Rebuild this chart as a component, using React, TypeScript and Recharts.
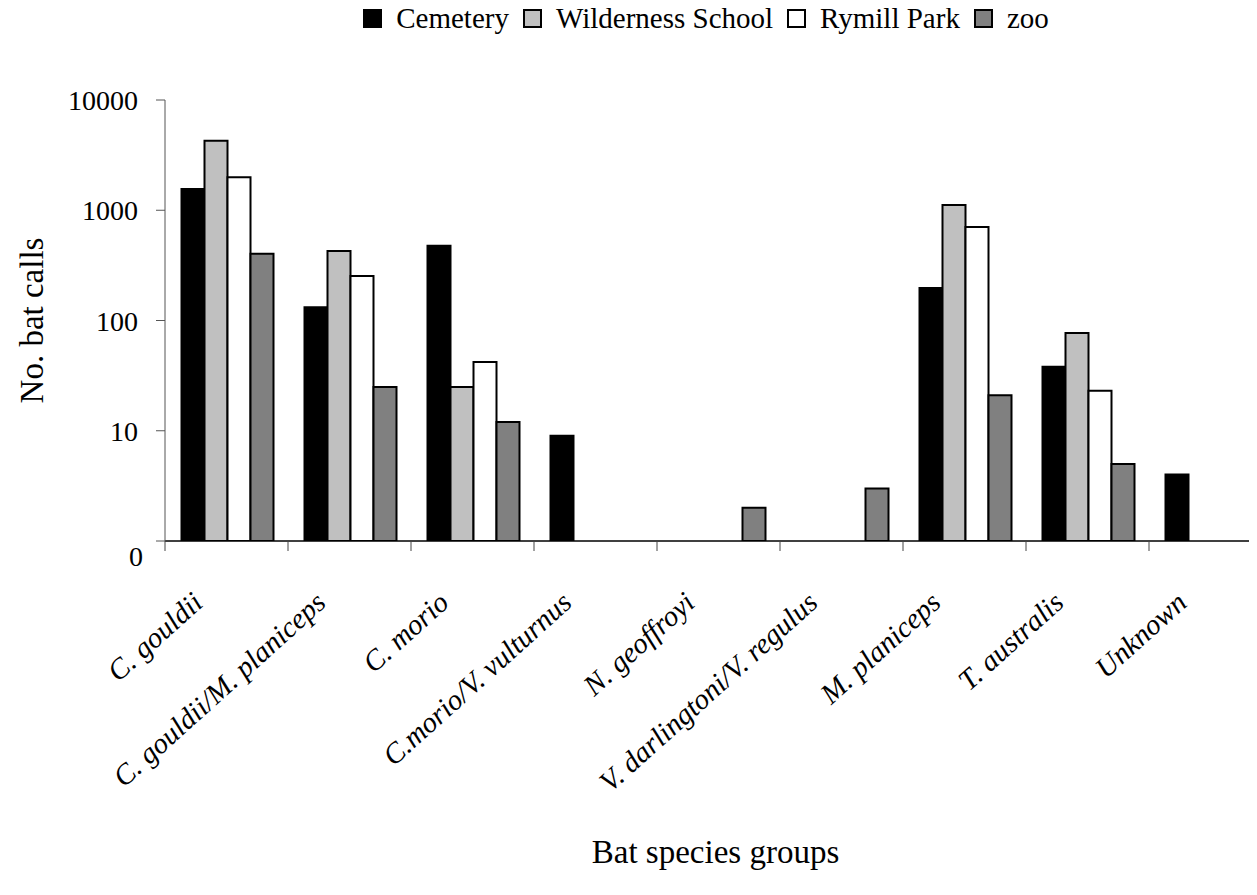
import React from "react";
import { BarChart, Bar, XAxis, YAxis, Legend, Label } from "recharts";

const FONT = '"Liberation Serif", "Times New Roman", serif';

const CATEGORIES = [
  "C. gouldii",
  "C. gouldii/M. planiceps",
  "C. morio",
  "C.morio/V. vulturnus",
  "N. geoffroyi",
  "V. darlingtoni/V. regulus",
  "M. planiceps",
  "T. australis",
  "Unknown",
];

const CEMETERY = [1560, 132, 477, 9, null, null, 197, 38, 4];
const WILDERNESS = [4275, 427, 25, null, null, null, 1115, 77, null];
const RYMILL = [1990, 253, 42, null, null, null, 705, 23, null];
const ZOO = [404, 25, 12, null, 2, 3, 21, 5, null];

const Y_TICKS = [1, 10, 100, 1000, 10000];

const SERIES = [
  { key: "cemetery", name: "Cemetery", color: "#000000" },
  { key: "wilderness", name: "Wilderness School", color: "#c0c0c0" },
  { key: "rymill", name: "Rymill Park", color: "#ffffff" },
  { key: "zoo", name: "zoo", color: "#808080" },
];

const data = CATEGORIES.map((name, i) => ({
  name,
  cemetery: CEMETERY[i],
  wilderness: WILDERNESS[i],
  rymill: RYMILL[i],
  zoo: ZOO[i],
}));

const renderLegend = () => (
  <div
    style={{
      height: 100,
      display: "flex",
      justifyContent: "center",
      alignItems: "flex-start",
      fontFamily: FONT,
      fontSize: 29,
      lineHeight: "34px",
      paddingTop: 1,
      boxSizing: "border-box",
      color: "#000",
    }}
  >
    {SERIES.map((s, i) => (
      <span
        key={s.key}
        style={{
          display: "inline-flex",
          alignItems: "center",
          marginRight: i < SERIES.length - 1 ? 14 : 0,
          whiteSpace: "nowrap",
        }}
      >
        <span
          style={{
            display: "inline-block",
            width: 15,
            height: 15,
            border: "2px solid #000",
            background: s.color,
            marginRight: 14,
          }}
        />
        {s.name}
      </span>
    ))}
  </div>
);

const XTick = (props: any) => {
  const { x, y, payload } = props;
  const half = payload && payload.offset ? payload.offset : 61.5;
  const ax = x - 22;
  const ay = y + 64;
  return (
    <g>
      <line x1={x - half} x2={x - half} y1={y} y2={y + 10} stroke="#444" strokeWidth={1} />
      <text
        x={ax}
        y={ay}
        textAnchor="end"
        transform={`rotate(-42, ${ax}, ${ay})`}
        fontFamily={FONT}
        fontStyle="italic"
        fontSize={29}
        fill="#000"
      >
        {payload.value}
      </text>
    </g>
  );
};

const YTick = (props: any) => {
  const { x, y, payload } = props;
  const isZero = payload.value === 1;
  return (
    <text
      x={x + (isZero ? 5 : 0)}
      y={y + (isZero ? 15 : 0)}
      dy="0.36em"
      textAnchor="end"
      fontFamily={FONT}
      fontSize={28}
      fill="#000"
    >
      {isZero ? "0" : String(payload.value)}
    </text>
  );
};

export default function App() {
  return (
    <div
      style={{
        margin: -8,
        width: 1257,
        height: 895,
        overflow: "hidden",
        position: "relative",
        background: "#fff",
      }}
    >
      <BarChart
        width={1300}
        height={895}
        data={data}
        margin={{ top: 0, right: 28, bottom: 0, left: 0 }}
        barCategoryGap={16.5}
        barGap={0}
      >
        <Legend
          verticalAlign="top"
          align="center"
          content={renderLegend}
          wrapperStyle={{ left: 165, width: 1082 }}
        />
        <XAxis
          dataKey="name"
          height={354}
          interval={0}
          axisLine={{ stroke: "#000", strokeWidth: 1.5 }}
          tickLine={false}
          tickSize={0}
          tickMargin={0}
          tick={<XTick />}
        >
          <Label
            content={(p: any) => {
              const vb = p.viewBox || { x: 165, y: 541, width: 1107 };
              return (
                <text
                  x={vb.x + vb.width / 2 - 3}
                  y={vb.y + 322}
                  textAnchor="middle"
                  fontFamily={FONT}
                  fontSize={33}
                  fill="#000"
                >
                  Bat species groups
                </text>
              );
            }}
          />
        </XAxis>
        <YAxis
          scale="log"
          domain={[1, 10000]}
          ticks={Y_TICKS}
          interval={0}
          allowDataOverflow
          width={165}
          axisLine={{ stroke: "#555" }}
          tickLine={{ stroke: "#555" }}
          tickSize={9}
          tickMargin={18}
          tick={<YTick />}
        >
          <Label
            content={(p: any) => {
              const vb = p.viewBox || { x: 0, y: 100, height: 441 };
              const cy = vb.y + vb.height / 2;
              return (
                <text
                  x={43}
                  y={cy}
                  textAnchor="middle"
                  transform={`rotate(-90, 43, ${cy})`}
                  fontFamily={FONT}
                  fontSize={33}
                  fill="#000"
                >
                  No. bat calls
                </text>
              );
            }}
          />
        </YAxis>
        {SERIES.map((s) => (
          <Bar
            key={s.key}
            dataKey={s.key}
            name={s.name}
            fill={s.color}
            stroke="#000"
            strokeWidth={2}
            isAnimationActive={false}
          />
        ))}
      </BarChart>
    </div>
  );
}
